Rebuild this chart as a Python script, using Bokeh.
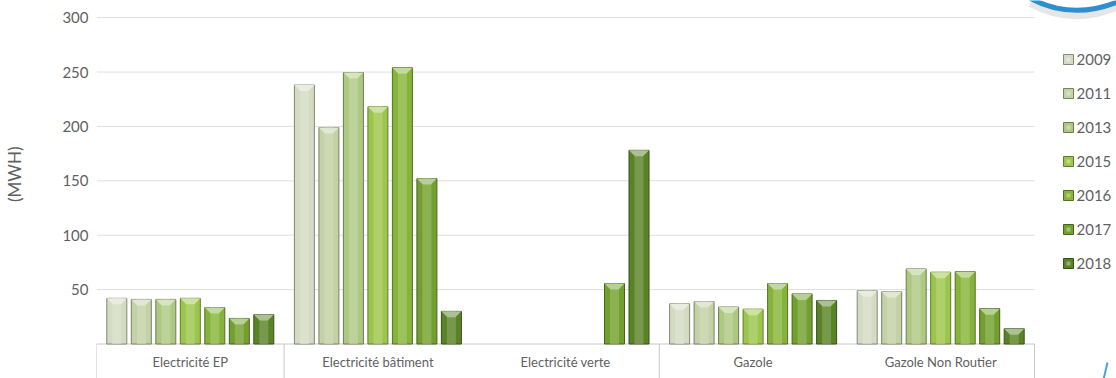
import math
from bokeh.plotting import figure
from bokeh.models import Range1d, FixedTicker, ColumnDataSource
from bokeh.core.properties import value
from bokeh.embed import file_html
from bokeh.resources import INLINE

# ---------------- data ----------------
categories = ["Electricité EP", "Electricité bâtiment", "Electricité verte",
              "Gazole", "Gazole Non Routier"]
years = ["2009", "2011", "2013", "2015", "2016", "2017", "2018"]
v2009 = [42, 238, None, 37, 49]
v2011 = [41, 199, None, 39, 48]
v2013 = [41, 249.5, None, 34, 69]
v2015 = [42, 218, None, 32, 66]
v2016 = [33.5, 254, None, 55.5, 66.5]
v2017 = [23.5, 152, 55.5, 46, 32.5]
v2018 = [27, 30, 178, 40, 14]
series = [v2009, v2011, v2013, v2015, v2016, v2017, v2018]
y_ticks = [50, 100, 150, 200, 250, 300]
separators = [0, 1, 3, 5]   # box borders under the category labels

# ---------------- style ----------------
colors = ["#d3dbc2", "#c2d1a6", "#adc882", "#9cc64b", "#86b43a", "#72a02e", "#5a8327"]
FONT = "Lato"
TXT = "#5f5f5f"


def mix(c, t, f):
    c = c.lstrip("#"); t = t.lstrip("#")
    a = [int(c[i:i + 2], 16) for i in (0, 2, 4)]
    b = [int(t[i:i + 2], 16) for i in (0, 2, 4)]
    return "#" + "".join("%02x" % round(a[k] + (b[k] - a[k]) * f) for k in range(3))


SLOT_PX = 187.6          # px per category slot
PX_PER_UNIT = 1.088      # px per MWh
FRAME_W = 1020
FRAME_H = 378
ZERO_PX = 343.5          # y pixel of value 0 from top

x_max = FRAME_W / SLOT_PX
y_min = -(FRAME_H - ZERO_PX) / PX_PER_UNIT
y_max = ZERO_PX / PX_PER_UNIT


def dx(px):   # screen px (window) -> data x
    return (px - 96) / SLOT_PX


def dy(py):   # screen px (window) -> data y
    return (ZERO_PX - py) / PX_PER_UNIT


p = figure(width=1116, height=378, x_range=Range1d(0, x_max), y_range=Range1d(y_min, y_max),
           output_backend="svg", toolbar_location=None, x_axis_location=None,
           min_border_left=96, min_border_right=0, min_border_top=0, min_border_bottom=0)
p.outline_line_color = None
p.xgrid.visible = False
p.ygrid.visible = False

ax = p.yaxis[0]
ax.ticker = FixedTicker(ticks=y_ticks)
ax.axis_line_color = None
ax.major_tick_line_color = None
ax.minor_tick_line_color = None
ax.major_tick_out = 0
ax.major_tick_in = 0
ax.major_label_standoff = 8
ax.major_label_text_font = FONT
ax.major_label_text_font_size = "15px"
ax.major_label_text_color = TXT
ax.axis_label = "\u00a0" * 7 + "(MWH)"
ax.axis_label_text_font = FONT
ax.axis_label_text_font_size = "17px"
ax.axis_label_text_font_style = "normal"
ax.axis_label_text_color = TXT
ax.axis_label_standoff = 34

n = len(categories)
# gridlines (only over the category area)
p.segment(x0=[0] * len(y_ticks), x1=[n] * len(y_ticks), y0=y_ticks, y1=y_ticks,
          line_color="#dedede", line_width=1)

# box under the bars
p.segment(x0=[0], x1=[n], y0=[0], y1=[0], line_color="#c8c8c8", line_width=1)
p.segment(x0=separators, x1=separators, y0=[0] * len(separators), y1=[y_min] * len(separators),
          line_color="#c8c8c8", line_width=1)

step = 24.5 / SLOT_PX
bw = 20 / SLOT_PX
bev = 6 / PX_PER_UNIT

for j, (yr, vals) in enumerate(zip(years, series)):
    xs, tops = [], []
    for i, v in enumerate(vals):
        if v is None:
            continue
        xs.append(i + 0.5 + (j - 3) * step)
        tops.append(v)
    c = colors[j]
    src = ColumnDataSource(dict(x=xs, top=tops))
    p.vbar(x="x", top="top", bottom=0, width=bw, source=src,
           fill_color=c, line_color=mix(c, "#000000", 0.38), line_width=1)
    # cylinder-like highlight
    p.vbar(x="x", top="top", bottom=0, width=bw * 0.45, source=src,
           fill_color=mix(c, "#ffffff", 0.25), fill_alpha=0.7, line_color=None)
    # top bevel
    bx = [[x - bw / 2, x + bw / 2, x + bw * 0.2, x - bw * 0.2] for x in xs]
    by = [[t, t, t - bev, t - bev] for t in tops]
    p.patches(xs=bx, ys=by, fill_color=mix(c, "#ffffff", 0.5), line_color=None)

# legend (right side), one row per year
row_y = [dy(59 + 34 * k) for k in range(len(years))]
p.scatter(x=[dx(1068)] * len(years), y=row_y, marker="square", size=10,
          fill_color=colors, line_color=[mix(c, "#000000", 0.38) for c in colors], line_width=1)
p.scatter(x=[dx(1068)] * len(years), y=row_y, marker="square", size=4,
          fill_color=[mix(c, "#ffffff", 0.35) for c in colors], line_color=None)
p.text(x=[dx(1076)] * len(years), y=row_y, text=years, text_font=value(FONT),
       text_font_size="15px", text_color=TXT, text_align="left", text_baseline="middle")

# category labels inside the box
p.text(x=[i + 0.5 for i in range(n)], y=[dy(361)] * n, text=categories,
       text_font=value(FONT), text_font_size="13px", text_color=TXT,
       text_align="center", text_baseline="middle")

# decorative blue arc (top-right) and slash (bottom-right), given in screen pixels
p.quadratic(x0=[dx(1030)], y0=[dy(3)], x1=[dx(1118)], y1=[dy(6)], cx=[dx(1072)], cy=[dy(26)],
            line_color="#e6e6e6", line_width=7)
p.quadratic(x0=[dx(1030)], y0=[dy(-2)], x1=[dx(1118)], y1=[dy(1)], cx=[dx(1072)], cy=[dy(20)],
            line_color="#2b8fd1", line_width=5)
p.segment(x0=[dx(1103)], y0=[dy(379)], x1=[dx(1107)], y1=[dy(362)],
          line_color="#4aa3df", line_width=2)

open("out.html", "w").write(file_html(p, INLINE))
